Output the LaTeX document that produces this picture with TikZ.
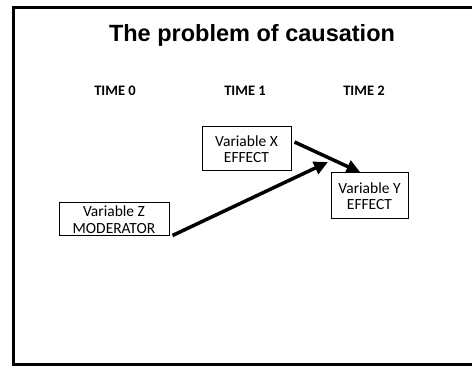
\documentclass[tikz,border=0pt]{standalone}
\usepackage{fontspec}
\setmainfont{Carlito}
\newfontfamily\headfont{Liberation Sans}
\usepackage{tikz}
\usetikzlibrary{arrows.meta, positioning, calc}

\begin{document}
\begin{tikzpicture}[
    x=1pt, y=-1pt,
    varbox/.style={draw, line width=1pt, inner sep=0pt, align=center, font=\fontsize{15.5}{16.5}\selectfont},
    timelabel/.style={anchor=base, font=\fontsize{14.5}{17}\selectfont\bfseries},
    bigarrow/.style={-{Triangle[length=14pt, width=13pt]}, line width=3.5pt},
  ]
  \useasboundingbox (0,0) rectangle (472,366);

  % Slide frame
  \draw[line width=2.5pt] (472,7.5) -- (13.5,7.5) -- (13.5,364.5) -- (472,364.5);

  % Title
  \node[anchor=base, font=\headfont\bfseries\fontsize{23.5}{27}\selectfont] (title) at (252,42) {The problem of causation};

  % Time points
  \node[timelabel] (time0) at (115,96) {TIME 0};
  \node[timelabel] (time1) at (245,96) {TIME 1};
  \node[timelabel] (time2) at (364,96) {TIME 2};

  % Variables
  \node[varbox, minimum width=89pt, minimum height=44pt] (effx) at (246.5,149) {Variable X\\EFFECT};
  \node[varbox, minimum width=77pt, minimum height=46pt] (effy) at (369.5,196) {Variable Y\\EFFECT};
  \node[varbox, minimum width=110pt, minimum height=33pt] (modz) at (114,219.5) {Variable Z\\MODERATOR};

  % Causal path and moderation
  \coordinate (hit) at (328,162);
  \draw[bigarrow] ([xshift=3pt, yshift=7pt]effx.east) -- ([xshift=-9pt]effy.north);
  \draw[bigarrow] ([xshift=3pt, yshift=1pt]modz.south east) -- (hit);

\end{tikzpicture}
\end{document}
